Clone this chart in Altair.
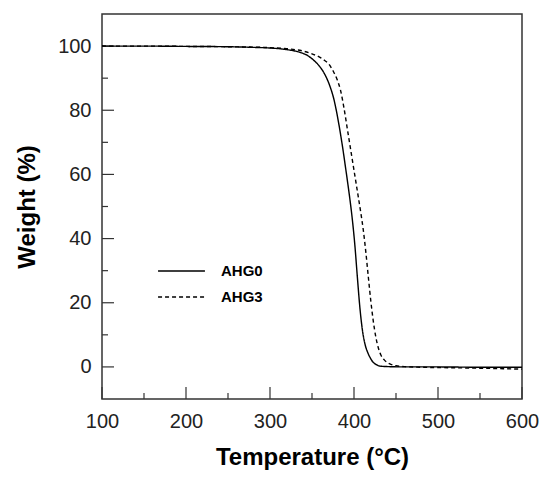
import altair as alt
import pandas as pd

# TGA curves: temperature (°C) vs remaining weight (%)
t_ahg0 = [100, 105, 150, 200, 250, 280, 300, 320, 335, 345, 352, 358, 363, 368, 372, 376,
          380, 384, 388, 390, 392, 395, 398, 401, 404, 407, 410, 413, 416, 419, 422, 426,
          430, 440, 460, 500, 550, 600]
w_ahg0 = [100.1, 100, 100, 99.9, 99.8, 99.6, 99.4, 98.9, 98.1, 97.0, 95.6, 94.0, 92.2, 89.7,
          87.0, 83.5, 78.5, 72.5, 65.7, 62.0, 58.3, 52.5, 46.0, 38.0, 28.0, 18.5, 11.5, 7.2,
          4.7, 3.0, 1.7, 0.8, 0.3, 0.1, 0.0, 0.0, -0.1, -0.1]

t_ahg3 = [100, 150, 200, 250, 300, 320, 340, 350, 360, 365, 370, 375, 380, 384, 388, 392,
          396, 400, 404, 408, 411, 414, 417, 420, 423, 426, 429, 432, 436, 440, 445, 450,
          460, 480, 500, 550, 600]
w_ahg3 = [100, 100, 99.9, 99.8, 99.5, 99.2, 98.4, 97.6, 96.4, 95.5, 94.4, 92.3, 89.5, 86.2,
          80.8, 74.3, 67.8, 61.3, 54.8, 48.2, 42.8, 36.0, 28.2, 20.6, 14.2, 9.3, 5.9, 3.7,
          2.2, 1.3, 0.7, 0.35, 0.1, -0.1, -0.2, -0.4, -0.7]

series_names = ["AHG0", "AHG3"]

x_major = [100, 200, 300, 400, 500, 600]
x_minor = [150, 250, 350, 450, 550]
y_major = [0, 20, 40, 60, 80, 100]
y_minor = [10, 30, 50, 70, 90]

curves = pd.concat([
    pd.DataFrame({"T": t_ahg0, "W": w_ahg0, "sample": series_names[0]}),
    pd.DataFrame({"T": t_ahg3, "W": w_ahg3, "sample": series_names[1]}),
])

FONT = "Liberation Sans"
W_PLOT, H_PLOT = 420, 385
x_scale = alt.Scale(domain=[100, 600], nice=False, zero=False)
y_scale = alt.Scale(domain=[-10, 110], nice=False, zero=False)

lines = alt.Chart(curves).mark_line(color="black", strokeWidth=1.4, interpolate="monotone").encode(
    x=alt.X("T:Q", scale=x_scale,
            axis=alt.Axis(title="Temperature (°C)", values=x_major, format="d", ticks=False,
                          domain=False, grid=False, labelPadding=12, labelFontSize=20,
                          labelFont=FONT, labelColor="#222", titleFont=FONT, titleFontSize=24,
                          titleFontWeight="bold", titleColor="black", titlePadding=14,
                          labelFlush=False)),
    y=alt.Y("W:Q", scale=y_scale,
            axis=alt.Axis(title="Weight (%)", values=y_major, format="d", ticks=False,
                          domain=False, grid=False, labelPadding=11, labelFontSize=20,
                          labelFont=FONT, labelColor="#222", titleFont=FONT, titleFontSize=24,
                          titleFontWeight="bold", titleColor="black", titlePadding=18)),
    strokeDash=alt.StrokeDash("sample:N",
                              scale=alt.Scale(domain=series_names, range=[[1, 0], [4, 3]]),
                              legend=alt.Legend(title=None, orient="none", legendX=55,
                                                legendY=247, symbolSize=2200, clipHeight=20,
                                                symbolStrokeWidth=1.4, symbolStrokeColor="black",
                                                labelFont=FONT, labelFontSize=15,
                                                labelFontWeight="bold", labelColor="black",
                                                labelOffset=15, rowPadding=6)),
)

# inward-pointing ticks along the bottom and left edges
xmaj = alt.Chart(pd.DataFrame({"v": x_major})).mark_rule(color="#333", strokeWidth=1.2).encode(
    x=alt.X("v:Q", scale=x_scale), y=alt.value(H_PLOT), y2=alt.value(H_PLOT - 12))
xmin = alt.Chart(pd.DataFrame({"v": x_minor})).mark_rule(color="#333", strokeWidth=1.2).encode(
    x=alt.X("v:Q", scale=x_scale), y=alt.value(H_PLOT), y2=alt.value(H_PLOT - 6))
ymaj = alt.Chart(pd.DataFrame({"v": y_major})).mark_rule(color="#333", strokeWidth=1.2).encode(
    y=alt.Y("v:Q", scale=y_scale), x=alt.value(0), x2=alt.value(12))
ymin = alt.Chart(pd.DataFrame({"v": y_minor})).mark_rule(color="#333", strokeWidth=1.2).encode(
    y=alt.Y("v:Q", scale=y_scale), x=alt.value(0), x2=alt.value(6))

chart = alt.layer(xmaj, xmin, ymaj, ymin, lines).properties(
    width=W_PLOT, height=H_PLOT,
    autosize=alt.AutoSizeParams(type="none"),
    padding={"left": 102, "top": 14, "right": 20, "bottom": 79},
    background="white",
).configure_view(stroke="#333", strokeWidth=1.5)

chart.save("out.html", embed_options={"renderer": "svg", "actions": False})
